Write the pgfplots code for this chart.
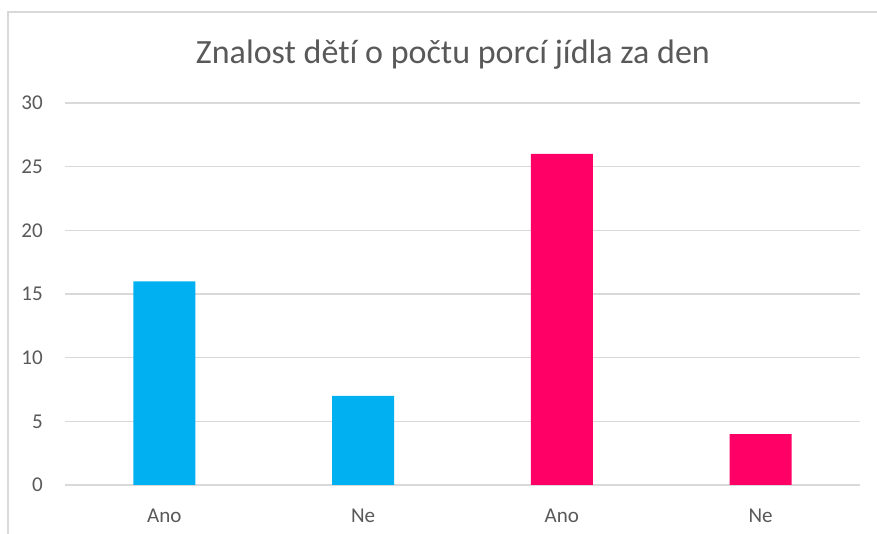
\documentclass[border=0pt]{standalone}
\usepackage{pgfplots}
\pgfplotsset{compat=1.18}
\usepackage{fontspec}
\setmainfont{Carlito}[Ligatures=NoCommon]
\definecolor{gridgray}{HTML}{D9D9D9}
\definecolor{txtgray}{HTML}{595959}
\definecolor{barblue}{HTML}{00B0F0}
\definecolor{barpink}{HTML}{FF0066}
\begin{document}
\begin{tikzpicture}
% page = 877 x 534 px, 1 px = 0.75pt
\useasboundingbox (0pt,0pt) rectangle (657.75pt,400.5pt);
\draw[gridgray, line width=1.2pt] (6pt,0pt) -- (6pt,391.5pt) -- (657.75pt,391.5pt);
\node[anchor=base, text=txtgray, font=\fontsize{25.5}{25.5}\selectfont] at (339.75pt,353pt)
  {Znalost dětí o počtu porcí jídla za den};
\begin{axis}[
    at={(48.75pt,36.75pt)}, anchor=south west,
    scale only axis,
    width=596.25pt, height=286.5pt,
    ybar, bar width=46.5pt, bar shift=0pt,
    xmin=-0.5, xmax=3.5,
    ymin=0, ymax=30,
    ytick={0,5,...,30},
    xtick={0,1,2,3},
    xticklabels={Ano,Ne,Ano,Ne},
    axis line style={draw=none},
    axis x line*=bottom,
    x axis line style={draw=gridgray, line width=1.2pt},
    ymajorgrids,
    grid style={gridgray, line width=1.2pt},
    major tick length=0pt,
    ticklabel style={text=txtgray, font=\fontsize{15.8}{15.8}\selectfont, inner sep=0pt},
    /pgf/number format/assume math mode=true,
    yticklabel shift=16.5pt,
    xticklabel shift=17.5pt,
    clip=false,
]
\addplot[fill=barblue, draw=none] coordinates {(0,16) (1,7)};
\addplot[fill=barpink, draw=none] coordinates {(2,26) (3,4)};
\end{axis}
\end{tikzpicture}
\end{document}
